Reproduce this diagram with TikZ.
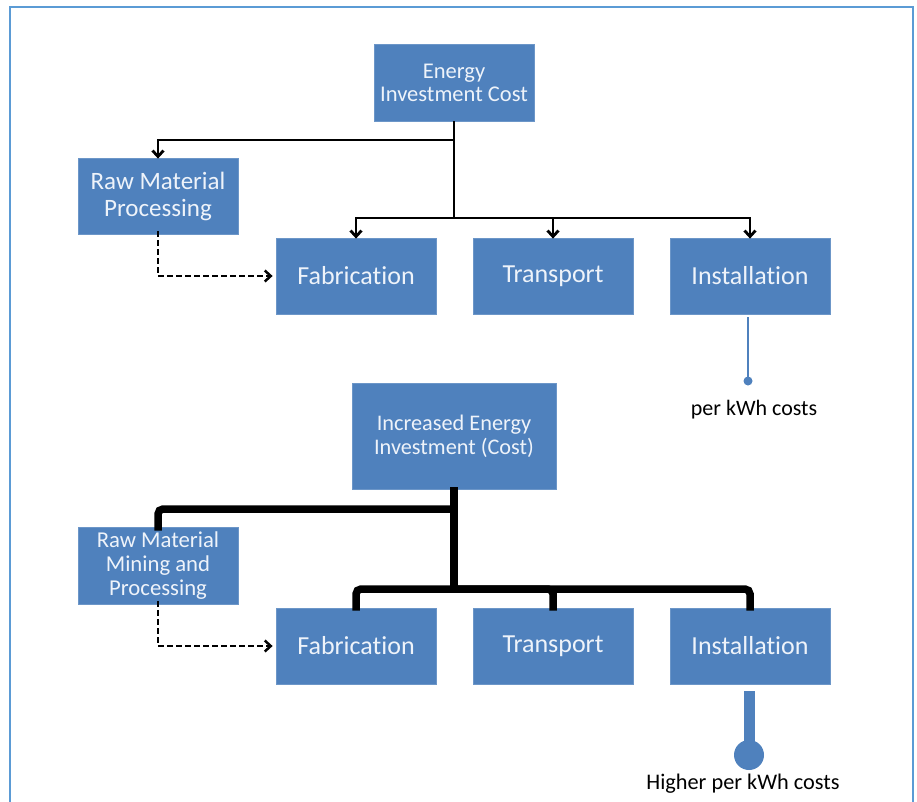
\documentclass[tikz,border=0pt]{standalone}
\usepackage{fontspec}
\setmainfont{Carlito}[Ligatures={NoCommon}]
\usetikzlibrary{arrows.meta}
\definecolor{boxblue}{HTML}{4F81BD}
\definecolor{boxedge}{HTML}{6C96C8}
\definecolor{framec}{HTML}{5B9BD5}
\definecolor{boxtext}{HTML}{EEF3FA}
\begin{document}
\begin{tikzpicture}[x=1pt,y=-1pt,
  box/.style={fill=boxblue,draw=boxedge,line width=0.8pt,text=boxtext,align=center,inner sep=0pt,font=\fontsize{26}{28}\selectfont},
  conn/.style={line width=2.4pt,black},
  arr/.style={-{Straight Barb[length=6pt,width=11pt,line width=2.8pt]}},
  thick conn/.style={line width=7.5pt,black,rounded corners=5pt},
  dash conn/.style={line width=2.3pt,black,dash pattern=on 6pt off 3pt,-{Straight Barb[length=6pt,width=11pt,line width=2.5pt]}}
]
\useasboundingbox (0,0) rectangle (917,801);
\begin{scope}
\clip (0,0) rectangle (917,801);
\draw[framec,line width=2pt] (10,7) rectangle (913,830);
\end{scope}
% top half
\node[box,minimum width=160pt,minimum height=77pt,font=\fontsize{22.5}{23}\selectfont] (eic) at (454,82.5) {Energy\\Investment Cost};
\node[box,minimum width=160pt,minimum height=76pt,font=\fontsize{25}{27}\selectfont] (rmp) at (158,196) {Raw Material\\Processing};
\node[box,minimum width=160pt,minimum height=76pt] (fab) at (356,276) {Fabrication};
\node[box,minimum width=160pt,minimum height=76pt] (tra) at (553,276) {Transport};
\node[box,minimum width=160pt,minimum height=76pt] (ins) at (750,276) {Installation};
\coordinate (j1) at (454,140);
\coordinate (j2) at (454,218);
\draw[conn] (eic.south) -- (j2);
\draw[conn,arr] (j1) -| ([yshift=-1pt]rmp.north);
\draw[conn,arr] (j2) -| ([yshift=-1pt]fab.north);
\draw[conn,arr] (j2) -| ([yshift=-1pt]tra.north);
\draw[conn,arr] (j2) -| ([yshift=-1pt]ins.north);
\draw[dash conn] ([yshift=3pt]rmp.south) |- ([xshift=-3pt]fab.west);
\coordinate (dot1) at (748,381);
\draw[boxblue,line width=2pt] ([xshift=-2pt,yshift=-3pt]ins.south) -- (dot1);
\fill[boxblue] (dot1) circle (4.5pt);
\node[font=\fontsize{22}{24}\selectfont,text=black] (pk1) at (754,410) {per kWh costs};
% bottom half
\node[box,minimum width=204pt,minimum height=106pt,font=\fontsize{22.3}{24}\selectfont] (iei) at (454,436) {Increased Energy\\Investment (Cost)};
\node[box,minimum width=160pt,minimum height=77pt,font=\fontsize{22.7}{24}\selectfont] (rmm) at (158,565.5) {Raw Material\\Mining and\\Processing};
\node[box,minimum width=160pt,minimum height=76pt] (fab2) at (356,646) {Fabrication};
\node[box,minimum width=160pt,minimum height=76pt] (tra2) at (553,646) {Transport};
\node[box,minimum width=160pt,minimum height=76pt] (ins2) at (750,646) {Installation};
\coordinate (k1) at (454,509);
\coordinate (k2) at (454,589);
\draw[thick conn] ([yshift=2pt]iei.south) -- (k2);
\draw[thick conn] (k1) -| ([yshift=-4pt]rmm.north);
\draw[thick conn] ([xshift=4pt]k2) -| ([yshift=-3pt]fab2.north);
\draw[thick conn] (k2) -| ([yshift=-3pt]tra2.north);
\draw[thick conn] (k2) -| ([yshift=-3pt]ins2.north);
\draw[dash conn] ([yshift=3pt]rmm.south) |- ([xshift=-3pt]fab2.west);
\coordinate (dot2) at (749,755);
\draw[boxblue,line width=11pt] ([xshift=-1pt,yshift=-7pt]ins2.south) -- (dot2);
\fill[boxblue] (dot2) circle (15pt);
\node[font=\fontsize{22.3}{24}\selectfont,text=black] (pk2) at (743,784) {Higher per kWh costs};
\end{tikzpicture}
\end{document}
